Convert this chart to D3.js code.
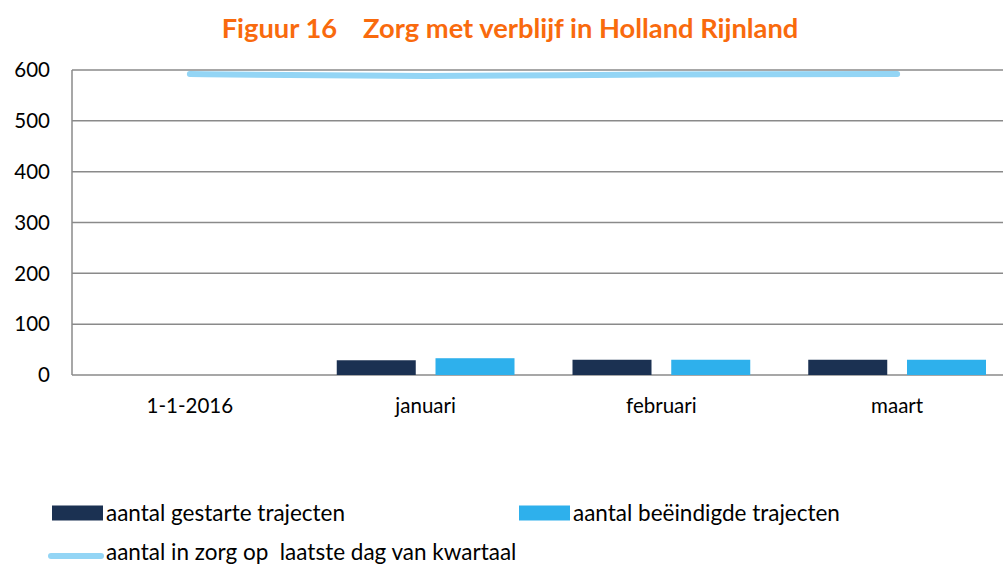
<!DOCTYPE html>
<html>
<head>
<meta charset="utf-8">
<script src="https://cdn.jsdelivr.net/npm/d3@7"></script>
<style>
  body { margin: 0; background: #fff; }
  text { font-family: Lato, "Open Sans", sans-serif; }
</style>
</head>
<body>
<svg width="1003" height="566"></svg>
<script>
var categories = ["1-1-2016", "januari", "februari", "maart"];
var gestart = [null, 29, 30, 30];
var beeindigd = [null, 33, 30, 30];
var inZorg = [592, 588, 591, 592];
var yTicks = [0, 100, 200, 300, 400, 500, 600];

var seriesNames = ["aantal gestarte trajecten", "aantal beëindigde trajecten"];
var seriesColors = ["#1b3152", "#2eb0ec"];
var lineColor = "#93d5f5";

var svg = d3.select("svg");

var x = d3.scaleBand()
  .domain(categories)
  .range([72, 1015])
  .padding(0);

var x1 = d3.scaleBand()
  .domain([0, 1])
  .range([29, x.bandwidth() - 29])
  .paddingInner(0.2);

var y = d3.scaleLinear()
  .domain([0, 600])
  .range([375, 70]);

// title
var title = svg.append("text")
  .attr("x", 510)
  .attr("y", 38)
  .attr("text-anchor", "middle")
  .style("font-size", "27.3px")
  .style("font-weight", "bold")
  .style("fill", "#f96a0d");
title.append("tspan").text("Figuur 16");
title.append("tspan").attr("dx", 26).text("Zorg met verblijf in Holland Rijnland");

// gridlines
svg.append("g")
  .selectAll("line")
  .data(yTicks)
  .enter().append("line")
  .attr("x1", 72)
  .attr("x2", 1003)
  .attr("y1", function(d) { return y(d); })
  .attr("y2", function(d) { return y(d); })
  .attr("stroke", "#8a8a8a")
  .attr("stroke-width", 1.5);

svg.append("line")
  .attr("x1", 72).attr("x2", 72)
  .attr("y1", y(600)).attr("y2", y(0))
  .attr("stroke", "#8a8a8a")
  .attr("stroke-width", 1.5);

// y labels
svg.append("g")
  .selectAll("text")
  .data(yTicks)
  .enter().append("text")
  .attr("x", 50)
  .attr("y", function(d) { return y(d); })
  .attr("dy", "0.35em")
  .attr("text-anchor", "end")
  .style("font-size", "20.5px")
  .style("fill", "#000")
  .text(function(d) { return d; });

// x labels
svg.append("g")
  .selectAll("text")
  .data(categories)
  .enter().append("text")
  .attr("x", function(d) { return x(d) + x.bandwidth() / 2; })
  .attr("y", 406)
  .attr("dy", "0.35em")
  .attr("text-anchor", "middle")
  .style("font-size", "20.5px")
  .style("fill", "#000")
  .text(function(d) { return d; });

// bars
var barData = [];
categories.forEach(function(c, i) {
  [gestart, beeindigd].forEach(function(s, k) {
    if (s[i] != null) barData.push({ cat: c, k: k, v: s[i] });
  });
});

svg.append("g")
  .selectAll("rect")
  .data(barData)
  .enter().append("rect")
  .attr("x", function(d) { return x(d.cat) + x1(d.k); })
  .attr("width", x1.bandwidth())
  .attr("y", function(d) { return y(d.v); })
  .attr("height", function(d) { return y(0) - y(d.v); })
  .attr("fill", function(d) { return seriesColors[d.k]; });

// line
var line = d3.line()
  .x(function(d, i) { return x(categories[i]) + x.bandwidth() / 2; })
  .y(function(d) { return y(d); })
  .curve(d3.curveMonotoneX);

svg.append("path")
  .datum(inZorg)
  .attr("d", line)
  .attr("fill", "none")
  .attr("stroke", lineColor)
  .attr("stroke-width", 6)
  .attr("stroke-linecap", "round");

// legend
var legend = svg.append("g");
var legItems = [
  { x: 52, y: 513, name: seriesNames[0], color: seriesColors[0], type: "rect" },
  { x: 519, y: 513, name: seriesNames[1], color: seriesColors[1], type: "rect" },
  { x: 52, y: 552, name: "aantal in zorg op  laatste dag van kwartaal", color: lineColor, type: "line" }
];

legItems.forEach(function(d) {
  if (d.type == "rect") {
    legend.append("rect")
      .attr("x", d.x).attr("y", d.y - 7.5)
      .attr("width", 51).attr("height", 15)
      .attr("fill", d.color);
  } else {
    legend.append("line")
      .attr("x1", d.x - 1).attr("x2", d.x + 49)
      .attr("y1", d.y + 4).attr("y2", d.y + 4)
      .attr("stroke", d.color)
      .attr("stroke-width", 6)
      .attr("stroke-linecap", "round");
  }
  legend.append("text")
    .attr("x", d.x + 54)
    .attr("y", d.y)
    .attr("dy", "0.35em")
    .attr("xml:space", "preserve")
    .style("font-size", "22.5px")
    .style("fill", "#000")
    .text(d.name);
});
</script>
</body>
</html>
